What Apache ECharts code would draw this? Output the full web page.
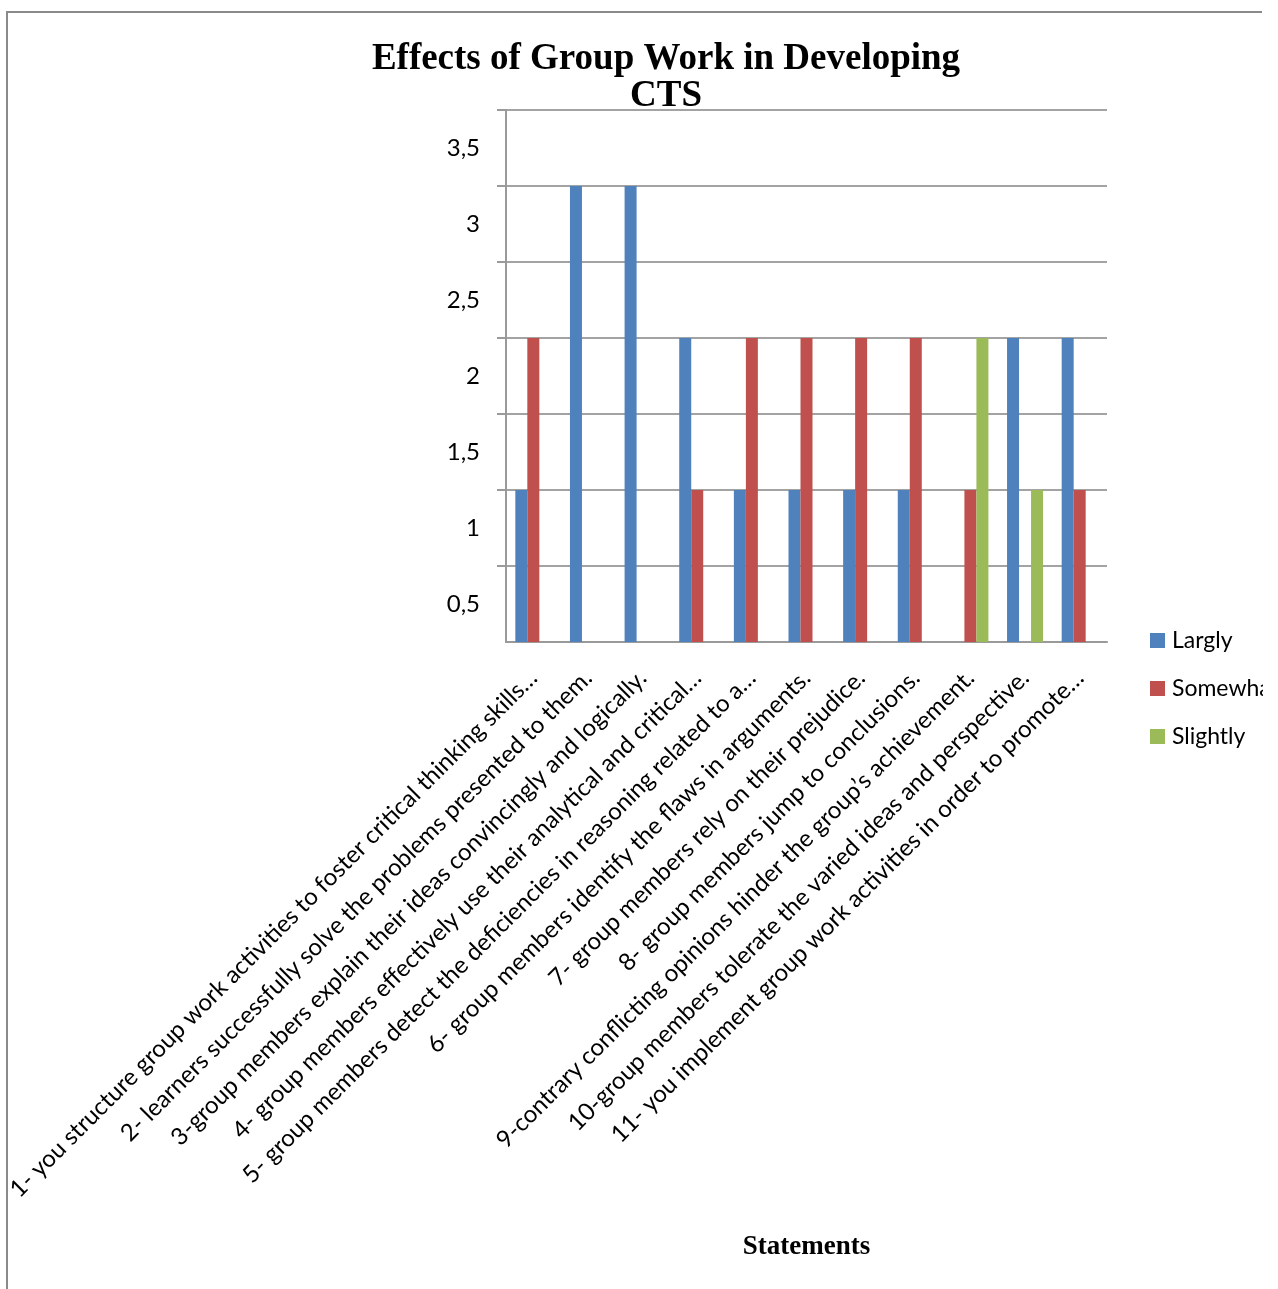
<!DOCTYPE html>
<html>
<head>
<meta charset="utf-8">
<script src="https://cdn.jsdelivr.net/npm/echarts@6/dist/echarts.min.js"></script>
<style>
  html, body { margin: 0; padding: 0; background: #ffffff; }
  #chart { position: absolute; left: 0; top: 0; width: 1263px; height: 1289px; }
</style>
</head>
<body>
<div id="chart"></div>
<script>
// Survey statements (x-axis categories)
const statements = [
  '1- you structure group work activities to foster critical thinking skills…',
  '2- learners successfully solve the problems presented to them.',
  '3-group members explain their ideas convincingly and logically.',
  '4- group members effectively use their analytical and critical…',
  '5- group members detect the deficiencies in reasoning related to a…',
  '6- group members identify the flaws in arguments.',
  '7- group members rely on their prejudice.',
  '8- group members jump to conclusions.',
  '9-contrary conflicting opinions hinder the group’s achievement.',
  '10-group members tolerate the varied ideas and perspective.',
  '11- you implement group work activities in order to promote…'
];

// Response counts per statement
const largly   = [1, 3, 3, 2, 1, 1, 1, 1, null, 2, 2];
const somewhat = [2, null, null, 1, 2, 2, 2, 2, 1, null, 1];
const slightly = [null, null, null, null, null, null, null, null, 2, 1, null];

const seriesNames = ['Largly', 'Somewhat', 'Slightly'];
const seriesColors = ['#4F81BD', '#C0504D', '#9BBB59'];

const chart = echarts.init(document.getElementById('chart'), null, { renderer: 'canvas' });

const LABEL_FONT = 'Lato, "Open Sans", sans-serif';
const SERIF = '"Liberation Serif", "Times New Roman", serif';

chart.setOption({
  animation: false,
  backgroundColor: '#ffffff',
  title: {
    text: 'Effects of Group Work in Developing\nCTS',
    left: 661,
    top: 36,
    textAlign: 'center',
    textStyle: {
      fontFamily: SERIF,
      fontWeight: 'bold',
      fontSize: 37,
      lineHeight: 37,
      color: '#000000'
    }
  },
  graphic: [{
    type: 'polyline',
    shape: { points: [[7, 1300], [7, 12], [1262, 12]] },
    style: { stroke: '#8a8a8a', lineWidth: 2, fill: null },
    silent: true
  }],
  legend: {
    orient: 'vertical',
    left: 1150,
    top: 629,
    padding: 0,
    itemWidth: 15,
    itemHeight: 15,
    itemGap: 25,
    icon: 'rect',
    data: seriesNames,
    textStyle: {
      fontFamily: LABEL_FONT,
      fontSize: 23,
      lineHeight: 23,
      color: '#000000',
      padding: [0, 0, 0, 2]
    }
  },
  grid: {
    left: 506,
    right: 1263 - 1107,
    top: 110,
    bottom: 1289 - 642,
    containLabel: false
  },
  xAxis: {
    type: 'category',
    data: statements,
    name: 'Statements',
    nameLocation: 'middle',
    nameGap: 592,
    nameTextStyle: {
      fontFamily: SERIF,
      fontWeight: 'bold',
      fontSize: 27,
      color: '#000000'
    },
    axisLine: { show: true, lineStyle: { color: '#9a9a9a', width: 2 } },
    axisTick: { show: false },
    axisLabel: {
      interval: 0,
      rotate: 45,
      margin: 32,
      fontFamily: LABEL_FONT,
      fontSize: 24,
      color: '#000000'
    },
    splitLine: { show: false }
  },
  yAxis: {
    type: 'value',
    min: 0,
    max: 3.5,
    interval: 0.5,
    axisLine: { show: true, lineStyle: { color: '#9a9a9a', width: 2 } },
    axisTick: { show: true, inside: false, length: 9, lineStyle: { color: '#9a9a9a', width: 2 } },
    splitLine: { show: true, lineStyle: { color: '#a3a3a3', width: 2 } },
    axisLabel: {
      showMinLabel: false,
      showMaxLabel: true,
      margin: 26,
      color: '#000000',
      // the value sits half a step below its gridline: an empty spacer line above it
      formatter: v => '{gap| }\n{v|' + String(v).replace('.', ',') + '}',
      rich: {
        gap: { lineHeight: 76, fontSize: 10 },
        v: { fontFamily: LABEL_FONT, fontSize: 24, lineHeight: 0, color: '#000000' }
      }
    }
  },
  series: [
    { name: seriesNames[0], type: 'bar', data: largly,   itemStyle: { color: seriesColors[0] }, barWidth: 12, barGap: '0%' },
    { name: seriesNames[1], type: 'bar', data: somewhat, itemStyle: { color: seriesColors[1] }, barWidth: 12, barGap: '0%' },
    { name: seriesNames[2], type: 'bar', data: slightly, itemStyle: { color: seriesColors[2] }, barWidth: 12, barGap: '0%' }
  ]
});
</script>
</body>
</html>
